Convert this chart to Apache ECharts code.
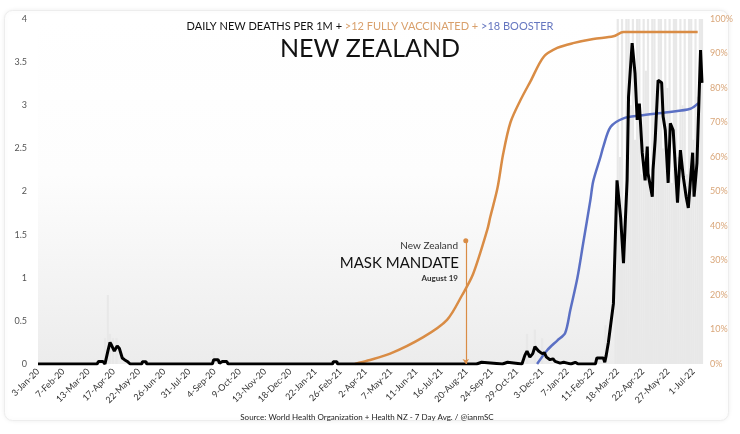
<!DOCTYPE html>
<html>
<head>
<meta charset="utf-8">
<script src="https://cdn.jsdelivr.net/npm/echarts@6/dist/echarts.min.js"></script>
<style>
  html, body { margin: 0; padding: 0; background: #fff; }
  #box { width: 740px; height: 434px; }
</style>
</head>
<body>
<div id="box"></div>
<script>
// x axis: days counted from 3-Jan-20, a tick every 35 days
var startDate = '2020-01-03';
var tickLabels = ['3-Jan-20', '7-Feb-20', '13-Mar-20', '17-Apr-20', '22-May-20', '26-Jun-20', '31-Jul-20',
    '4-Sep-20', '9-Oct-20', '13-Nov-20', '18-Dec-20', '22-Jan-21', '26-Feb-21', '2-Apr-21', '7-May-21',
    '11-Jun-21', '16-Jul-21', '20-Aug-21', '24-Sep-21', '29-Oct-21', '3-Dec-21', '7-Jan-22', '11-Feb-22',
    '18-Mar-22', '22-Apr-22', '27-May-22', '1-Jul-22'];
var lastDate = '2022-07-13';

// daily new deaths per 1M (7 day avg)
var deathDates = ['2020-01-03', '2020-03-25', '2020-03-27', '2020-04-02', '2020-04-05', '2020-04-09', '2020-04-12',
    '2020-04-14', '2020-04-18', '2020-04-22', '2020-04-25', '2020-04-29', '2020-05-02', '2020-05-06', '2020-05-10',
    '2020-05-26', '2020-05-27', '2020-06-01', '2020-06-02', '2020-09-01', '2020-09-03', '2020-09-09', '2020-09-11',
    '2020-09-15', '2020-09-21', '2020-09-23', '2021-02-15', '2021-02-16', '2021-02-21', '2021-02-22', '2021-09-03',
    '2021-09-04', '2021-09-10', '2021-09-11', '2021-10-09', '2021-10-10', '2021-10-16', '2021-10-17', '2021-11-05',
    '2021-11-09', '2021-11-12', '2021-11-16', '2021-11-20', '2021-11-23', '2021-11-28', '2021-12-03', '2021-12-06',
    '2021-12-09', '2021-12-14', '2021-12-18', '2021-12-21', '2021-12-28', '2022-01-02', '2022-01-07', '2022-01-12',
    '2022-01-18', '2022-01-22', '2022-02-03', '2022-02-04', '2022-02-07', '2022-02-15', '2022-02-17', '2022-02-26',
    '2022-02-28', '2022-03-02', '2022-03-05', '2022-03-12', '2022-03-17', '2022-03-22', '2022-03-26', '2022-03-31',
    '2022-04-02', '2022-04-07', '2022-04-11', '2022-04-14', '2022-04-17', '2022-04-21', '2022-04-25', '2022-04-28',
    '2022-04-29', '2022-05-05', '2022-05-06', '2022-05-09', '2022-05-13', '2022-05-18', '2022-05-20', '2022-05-23',
    '2022-05-27', '2022-05-30', '2022-06-03', '2022-06-09', '2022-06-13', '2022-06-17', '2022-06-21', '2022-06-24',
    '2022-06-30', '2022-07-02', '2022-07-06', '2022-07-11', '2022-07-13'];
var deathValues = [0, 0, 0.03, 0.03, 0, 0.15, 0.25,
    0.22, 0.15, 0.21, 0.18, 0.07, 0.05, 0.03, 0,
    0, 0.025, 0.025, 0, 0, 0.05, 0.05, 0.01,
    0.03, 0.03, 0, 0, 0.025, 0.025, 0, 0,
    0.02, 0.02, 0, 0, 0.02, 0.02, 0, 0,
    0.1, 0.15, 0.08, 0.12, 0.2, 0.15, 0.12, 0.13,
    0.08, 0.05, 0.06, 0.03, 0.01, 0.02, 0.01, 0,
    0.02, 0, 0, 0.02, 0, 0, 0.07, 0.07,
    0.02, 0.1, 0.25, 0.7, 2.13, 1.7, 1.17, 2.13,
    3.1, 3.72, 3.37, 2.83, 3.02, 2.45, 2.13, 2.52,
    2.21, 1.94, 2.25, 2.6, 3.29, 3.26, 2.87, 2.71,
    2.1, 2.79, 2.71, 1.87, 2.48, 2.17, 1.94, 1.81,
    2.45, 1.94, 2.33, 3.64, 3.26];

// raw daily deaths per 1M (light bars behind)
var rawDates = ['2020-04-05', '2020-04-09', '2020-04-12', '2020-04-16', '2020-04-21', '2020-09-03', '2021-11-12',
    '2021-11-23', '2021-12-03', '2022-03-01',
    '2022-03-15', '2022-03-18', '2022-03-21', '2022-03-24', '2022-03-27', '2022-03-30', '2022-04-02', '2022-04-05',
    '2022-04-08', '2022-04-11', '2022-04-14', '2022-04-17', '2022-04-20', '2022-04-23', '2022-04-26', '2022-04-29',
    '2022-05-02', '2022-05-05', '2022-05-08', '2022-05-11', '2022-05-14', '2022-05-17', '2022-05-20', '2022-05-23',
    '2022-05-26', '2022-05-29', '2022-06-01', '2022-06-04', '2022-06-07', '2022-06-10', '2022-06-13', '2022-06-16',
    '2022-06-19', '2022-06-22', '2022-06-25', '2022-06-28', '2022-07-01', '2022-07-04', '2022-07-07', '2022-07-10',
    '2022-07-13'];
var rawValues = [0.3, 0.8, 0.35, 0.3, 0.3, 0.15, 0.35,
    0.4, 0.3, 0.45,
    1.8, 4.5, 2.4, 4.5, 1.6, 4.5, 4.5, 3.0,
    4.5, 2.6, 4.5, 4.5, 2.2, 4.5, 3.4, 4.5,
    2.0, 4.5, 4.5, 2.8, 4.5, 4.5, 2.5, 4.5,
    3.2, 4.5, 2.1, 4.5, 4.5, 2.4, 4.5, 3.0,
    4.5, 2.2, 4.5, 4.5, 2.6, 4.5, 3.1, 4.5,
    4.5];

// % of 12+ fully vaccinated
var vaxDates = ['2021-03-18', '2021-04-05', '2021-05-06', '2021-06-21', '2021-07-24', '2021-08-14', '2021-08-29',
    '2021-09-18', '2021-09-22', '2021-10-02', '2021-10-10', '2021-10-20', '2021-11-03', '2021-11-17', '2021-12-05',
    '2021-12-24', '2022-01-15', '2022-02-12', '2022-03-12', '2022-03-26', '2022-07-07'];
var vaxValues = [0, 1.0, 3.0, 7.8, 12.8, 20, 26,
    39, 42.6, 51, 61, 70, 76.5, 82, 89,
    91.6, 93, 94.2, 95, 96.2, 96.2];

// % of 18+ boosted
var boostDates = ['2021-11-26', '2021-12-10', '2021-12-24', '2022-01-04', '2022-01-11', '2022-01-21', '2022-01-29',
    '2022-02-08', '2022-02-12', '2022-02-22', '2022-02-26', '2022-03-08', '2022-03-26', '2022-04-18', '2022-05-26',
    '2022-06-27', '2022-07-08'];
var boostValues = [0, 4, 6.8, 9, 15.5, 25, 35,
    47.5, 53, 60, 63, 68.7, 71.2, 72, 73,
    74, 75.6];

var maskDate = '2021-08-19';
var maskTop = 1.43;

var orange = '#d98c45';
var blue = '#5b70c4';

function day(s) {
    return (Date.parse(s) - Date.parse(startDate)) / 86400000;
}
function pairs(dates, values) {
    return dates.map(function (d, i) { return [day(d), values[i]]; });
}

var chart = echarts.init(document.getElementById('box'));

chart.setOption({
    animation: false,
    textStyle: { fontFamily: 'Lato' },
    graphic: [
        {
            type: 'rect', z: -5, left: 4, top: 10,
            shape: { width: 724, height: 410, r: 8 },
            style: { fill: '#fff', stroke: '#ededed', lineWidth: 1, shadowBlur: 5, shadowColor: 'rgba(0,0,0,0.07)' }
        },
        { type: 'text', z: 10, x: 458, y: 246,
          style: { text: 'New Zealand', fill: '#333', font: '10px Lato', textAlign: 'right', textVerticalAlign: 'middle' } },
        { type: 'text', z: 10, x: 459, y: 263,
          style: { text: 'MASK MANDATE', fill: '#111', font: '15px Lato', textAlign: 'right', textVerticalAlign: 'middle' } },
        { type: 'text', z: 10, x: 458, y: 278,
          style: { text: 'August 19', fill: '#333', font: 'bold 8px Lato', textAlign: 'right', textVerticalAlign: 'middle' } },
        { type: 'text', z: 10, x: 367, y: 417,
          style: { text: 'Source: World Health Organization + Health NZ - 7 Day Avg. / @ianmSC', fill: '#222',
                   font: '8px Lato', textAlign: 'center', textVerticalAlign: 'middle' } }
    ],
    title: [
        {
            left: 'center', top: 16,
            text: '{a|DAILY NEW DEATHS PER 1M + }{b|>12 FULLY VACCINATED + }{c|>18 BOOSTER}',
            textStyle: {
                fontWeight: 'normal',
                rich: {
                    a: { color: '#111', fontSize: 11, fontFamily: 'Lato', fontWeight: 'normal' },
                    b: { color: '#d9a06c', fontSize: 11, fontFamily: 'Lato', fontWeight: 'normal' },
                    c: { color: '#6677c0', fontSize: 11, fontFamily: 'Lato', fontWeight: 'normal' }
                }
            }
        },
        {
            left: 'center', top: 31,
            text: 'NEW ZEALAND',
            textStyle: { color: '#111', fontSize: 25, fontWeight: 'normal', fontFamily: 'Lato' }
        }
    ],
    grid: {
        left: 38, right: 38, top: 19, bottom: 70,
        show: true, borderWidth: 0,
        backgroundColor: new echarts.graphic.LinearGradient(0, 0, 0, 1, [
            { offset: 0, color: '#ffffff' },
            { offset: 0.45, color: '#fdfdfd' },
            { offset: 1, color: '#ececec' }
        ])
    },
    xAxis: {
        type: 'value', min: 0, max: day(lastDate), interval: 35,
        axisLine: { show: false }, axisTick: { show: false }, splitLine: { show: false },
        axisLabel: {
            rotate: 45, fontSize: 9, color: '#333', margin: 6,
            formatter: function (v) { return v % 35 === 0 ? (tickLabels[v / 35] || '') : ''; }
        }
    },
    yAxis: [
        {
            type: 'value', min: 0, max: 4, interval: 0.5,
            axisLine: { show: false }, axisTick: { show: false }, splitLine: { show: false },
            axisLabel: { fontSize: 9, color: '#555', margin: 11 }
        },
        {
            type: 'value', min: 0, max: 100, interval: 10,
            axisLine: { show: false }, axisTick: { show: false }, splitLine: { show: false },
            axisLabel: { fontSize: 9, color: '#d9a679', margin: 8, formatter: '{value}%' }
        }
    ],
    series: [
        {
            name: 'raw', type: 'bar', yAxisIndex: 0, barWidth: 2.2,
            itemStyle: { color: '#e8e8e8' },
            data: pairs(rawDates, rawValues)
        },
        {
            name: '>12 fully vaccinated', type: 'line', yAxisIndex: 1, smooth: 0.3, showSymbol: false,
            lineStyle: { color: orange, width: 2.5 },
            data: pairs(vaxDates, vaxValues),
            markLine: {
                silent: true, symbol: ['arrow', 'circle'], symbolSize: [5, 5],
                label: { show: false },
                lineStyle: { color: orange, width: 1.2, type: 'solid' },
                data: [[{ coord: [day(maskDate), 0] }, { coord: [day(maskDate), maskTop * 25] }]]
            }
        },
        {
            name: '>18 booster', type: 'line', yAxisIndex: 1, smooth: 0.3, showSymbol: false,
            lineStyle: { color: blue, width: 2.5 },
            data: pairs(boostDates, boostValues)
        },
        {
            name: 'deaths', type: 'line', yAxisIndex: 0, showSymbol: false,
            lineStyle: { color: '#000', width: 3 },
            data: pairs(deathDates, deathValues)
        }
    ]
});
</script>
</body>
</html>
